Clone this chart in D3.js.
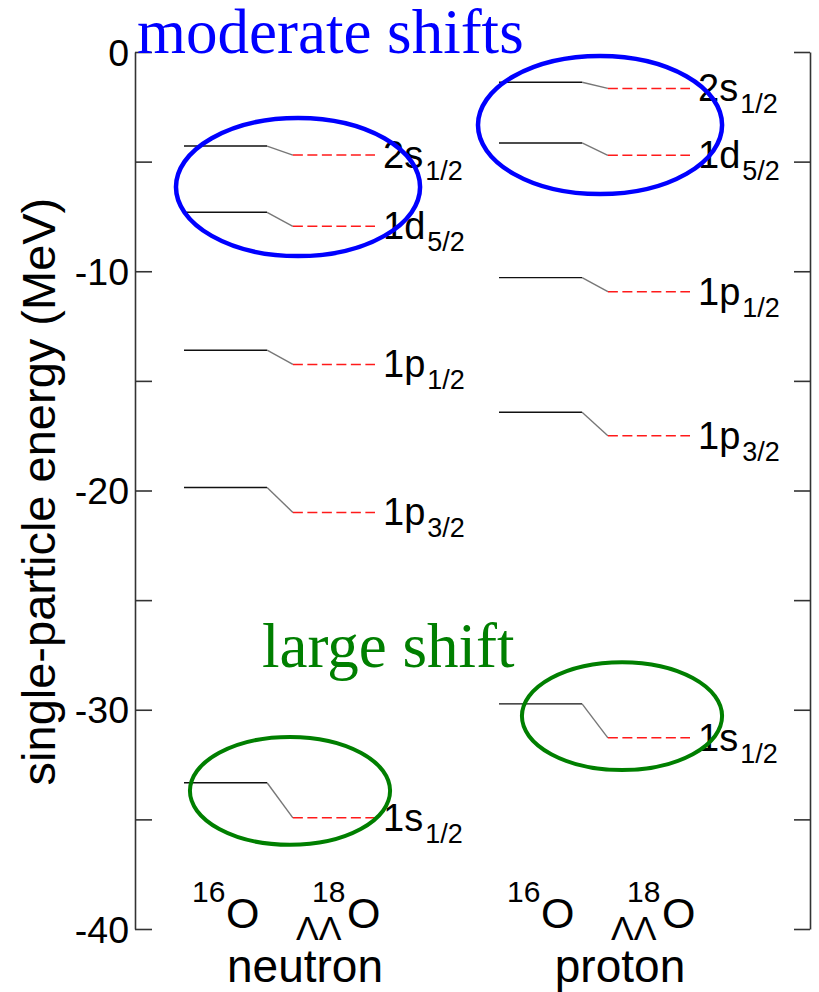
<!DOCTYPE html>
<html>
<head>
<meta charset="utf-8">
<script src="https://cdn.jsdelivr.net/npm/d3@7"></script>
<style>
    body { margin: 0; background: #fff; }
    text { font-family: "Liberation Sans", Arial, Helvetica, sans-serif; fill: #000; }
    .serif { font-family: "Liberation Serif", "Times New Roman", serif; }
</style>
</head>
<body>
<svg width="819" height="992"></svg>
<script>
// level data (MeV)
const groups = ["neutron", "proton"];
const orbitals = ["2s", "1d", "1p", "1p", "1s"];
const orbitalJ = ["1/2", "5/2", "1/2", "3/2", "1/2"];
const neutron16O = [-4.29, -7.31, -13.6, -19.86, -33.33];
const neutron18O = [-4.70, -7.95, -14.25, -21.0, -34.93];
const proton16O = [-1.38, -4.15, -10.29, -16.43, -29.73];
const proton18O = [-1.66, -4.71, -10.93, -17.5, -31.28];
const yTicks = d3.range(0, -41, -5);

let svg = d3.select("svg"),
    width = +svg.attr("width"),
    height = +svg.attr("height");

let y = d3.scaleLinear().domain([0, -40]).range([52, 929]);
// start of each level group
let xGroup = d3.scalePoint().domain(groups).range([184, 499]);
// position inside a group, 0 = start of 16O line, 1 = end of 18O line
let xIn = d3.scaleLinear().domain([0, 1]).range([0, 191]);
let blackEnd = 0.435, redStart = 0.57;

let levels = {
    neutron: neutron16O.map((e, i) => ({ e16: e, e18: neutron18O[i], name: orbitals[i], j: orbitalJ[i] })),
    proton: proton16O.map((e, i) => ({ e16: e, e18: proton18O[i], name: orbitals[i], j: orbitalJ[i] }))
};

// axes
let axisL = d3.axisLeft(y).tickValues(yTicks).tickSize(-17).tickSizeOuter(0).tickPadding(6)
    .tickFormat(d => d % 10 === 0 ? d : "");
let axisR = d3.axisRight(y).tickValues(yTicks).tickSize(-16).tickSizeOuter(0).tickFormat("");

let gL = svg.append("g").attr("transform", "translate(135,0)").call(axisL);
let gR = svg.append("g").attr("transform", "translate(810,0)").call(axisR);
[gL, gR].forEach(g => {
    g.selectAll("path, line").attr("stroke", "#333").attr("stroke-width", 1.6);
    g.selectAll("text").attr("font-family", "Liberation Sans, Arial, sans-serif")
        .attr("font-size", 37.5).attr("fill", "#000").attr("dy", "0.35em");
});

svg.append("text")
    .attr("transform", "translate(55," + y(-20.05) + ") rotate(-90)")
    .attr("text-anchor", "middle")
    .attr("font-size", 47)
    .text("single-particle energy (MeV)");

// levels
groups.forEach(grp => {
    let x0 = xGroup(grp);
    let g = svg.append("g");
    let lv = g.selectAll(".level").data(levels[grp]).enter().append("g").attr("class", "level");

    lv.append("line")
        .attr("x1", x0 + xIn(0)).attr("x2", x0 + xIn(blackEnd))
        .attr("y1", d => y(d.e16)).attr("y2", d => y(d.e16))
        .attr("stroke", "#111").attr("stroke-width", 1.4);

    lv.append("line")
        .attr("x1", x0 + xIn(blackEnd)).attr("x2", x0 + xIn(redStart))
        .attr("y1", d => y(d.e16)).attr("y2", d => y(d.e18))
        .attr("stroke", "#777").attr("stroke-width", 1.4);

    lv.append("line")
        .attr("x1", x0 + xIn(redStart)).attr("x2", x0 + xIn(1))
        .attr("y1", d => y(d.e18)).attr("y2", d => y(d.e18))
        .attr("stroke", "#ff1a1a").attr("stroke-width", 1.5)
        .attr("stroke-dasharray", "10,4.5");

    let lab = lv.append("text")
        .attr("x", x0 + xIn(1) + 8)
        .attr("y", d => y(d.e18) + 13)
        .attr("font-size", 38);
    lab.append("tspan").text(d => d.name);
    lab.append("tspan").attr("font-size", 27).attr("dx", 2).attr("dy", 12).text(d => d.j);

    // nuclei labels under the levels
    let base = y(-40);
    g.append("text").attr("x", x0 + 8).attr("y", base - 27).attr("font-size", 30).text("16");
    g.append("text").attr("x", x0 + 42).attr("y", base - 1).attr("font-size", 43).text("O");
    g.append("text").attr("x", x0 + 128).attr("y", base - 27).attr("font-size", 30).text("18");
    g.append("text").attr("x", x0 + 163).attr("y", base - 1).attr("font-size", 43).text("O");
    g.append("text")
        .attr("x", x0 + 112).attr("y", base + 11)
        .attr("font-size", 34).text("ΛΛ");
    g.append("text")
        .attr("x", x0 + 121).attr("y", base + 53)
        .attr("text-anchor", "middle").attr("font-size", 46).text(grp);
});

// annotations
function ring(grp, pos, e, rx, ry, color, sw) {
    svg.append("ellipse")
        .attr("cx", xGroup(grp) + xIn(pos)).attr("cy", y(e))
        .attr("rx", xIn(rx)).attr("ry", y(0) - y(ry))
        .attr("fill", "none").attr("stroke", color).attr("stroke-width", sw);
}
ring("neutron", 0.597, -6.16, 0.639, 3.15, "#0000ff", 4.5);
ring("proton", 0.529, -3.33, 0.639, 3.15, "#0000ff", 4.5);
ring("neutron", 0.555, -33.7, 0.524, 2.46, "#007f00", 4);
ring("proton", 0.644, -30.29, 0.524, 2.46, "#007f00", 4);

svg.append("text").attr("class", "serif")
    .attr("x", 137).attr("y", y(-0.05))
    .attr("font-size", 63).style("fill", "#0000ff")
    .text("moderate shifts");
svg.append("text").attr("class", "serif")
    .attr("x", 262).attr("y", y(-28.06))
    .attr("font-size", 63).style("fill", "#007f00")
    .text("large shift");
</script>
</body>
</html>
